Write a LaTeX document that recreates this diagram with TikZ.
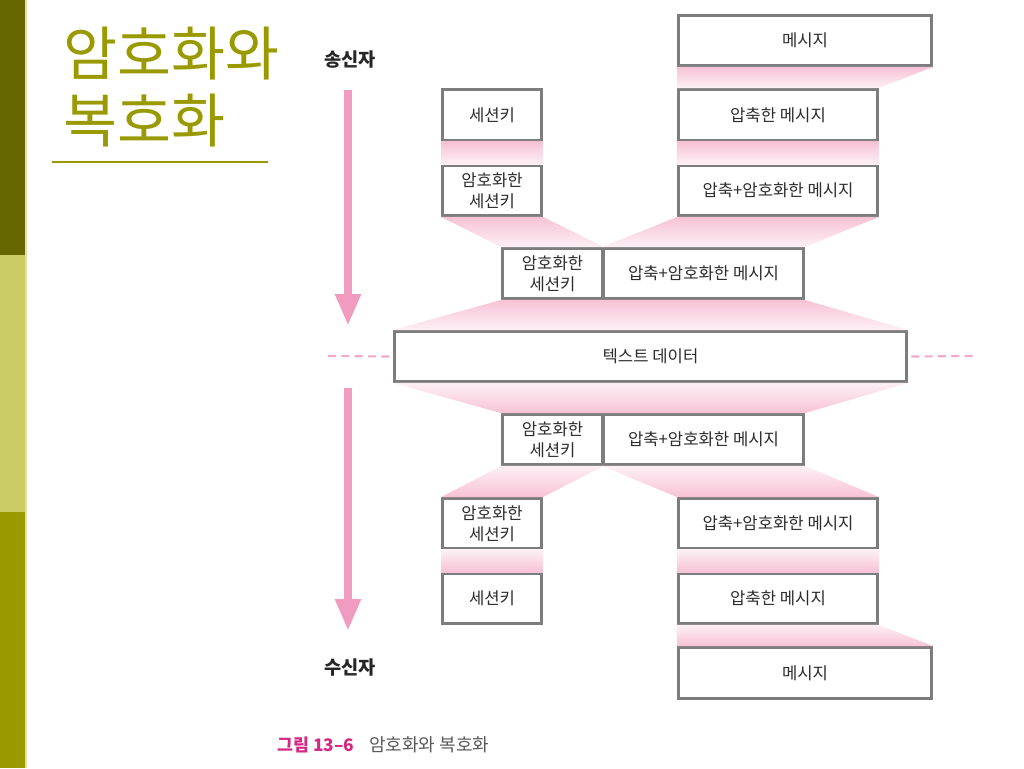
\documentclass[tikz,border=0pt]{standalone}
\usepackage{fontspec}
\setmainfont{Noto Sans CJK KR}
\usetikzlibrary{arrows.meta}
\definecolor{olivedark}{RGB}{102,102,0}
\definecolor{olivelight}{RGB}{204,204,102}
\definecolor{olivemid}{RGB}{153,153,0}
\definecolor{olivetitle}{RGB}{153,153,0}
\definecolor{pinkA}{RGB}{247,194,213}
\definecolor{pinkB}{RGB}{253,240,245}
\definecolor{arrowpink}{RGB}{242,155,192}
\definecolor{dashpink}{RGB}{240,170,200}
\definecolor{boxgray}{RGB}{125,125,125}
\definecolor{txtgray}{RGB}{45,45,45}
\definecolor{capmag}{RGB}{214,40,130}
\definecolor{capgray}{RGB}{90,90,90}
\newcommand\mkbox[6]{\node[boxnode, minimum width={(#4-#2-3)*0.75pt}, minimum height={(#5-#3-3)*0.75pt}] (#1) at ({(#2+#4)/2},{(#3+#5)/2}) {#6};}
\begin{document}
\begin{tikzpicture}[x=0.75pt,y=-0.75pt,
  boxnode/.style={draw=boxgray, line width=2.2pt, fill=white, inner sep=0pt, align=center,
    text=txtgray, font=\fontsize{12.5}{15.5}\selectfont},
  fadedown/.style={top color=pinkA, bottom color=pinkB},
  fadeup/.style={top color=pinkB, bottom color=pinkA},
  sidelabel/.style={font=\bfseries\fontsize{14}{16}\selectfont, text=black!85, inner sep=0pt},
  flowarrow/.style={arrowpink, line width=6pt, -{Triangle[length=24pt,width=18pt]}},
  sidedash/.style={dashpink, line width=1.6pt, dash pattern=on 6pt off 4pt},
  titletext/.style={anchor=west, inner sep=0pt, text=olivetitle, font=\fontsize{44}{50}\selectfont}]
\useasboundingbox (0,0) rectangle (1024,768);
\fill[white] (0,0) rectangle (1024,768);
% left bar
\fill[olivedark] (0,0) rectangle (25,255);
\fill[olivelight] (0,255) rectangle (25,512);
\fill[olivemid] (0,512) rectangle (25,768);
\fill[olivelight!60] (25,0) rectangle (26.5,768);
% title
\node[titletext] (t1) at (63,54) {암호화와};
\node[titletext] (t2) at (63,121) {복호화};
\coordinate (u1) at (52,162);
\coordinate (u2) at (268,162);
\draw[olivemid, line width=1.6pt] (u1) -- (u2);
% boxes
\mkbox{m1}{677}{14}{933}{67}{메시지}
\mkbox{k2}{441}{88}{543}{142}{세션키}
\mkbox{m2}{677}{88}{879}{142}{압축한 메시지}
\mkbox{k3}{441}{164}{543}{217}{암호화한\\세션키}
\mkbox{m3}{677}{164}{879}{217}{압축+암호화한 메시지}
\mkbox{k4}{501}{247}{604}{300}{암호화한\\세션키}
\mkbox{m4}{602}{247}{805}{300}{압축+암호화한 메시지}
\mkbox{td}{393}{330}{908}{383}{텍스트 데이터}
\mkbox{k5}{501}{413}{604}{466}{암호화한\\세션키}
\mkbox{m5}{602}{413}{805}{466}{압축+암호화한 메시지}
\mkbox{k6}{441}{497}{543}{550}{암호화한\\세션키}
\mkbox{m6}{677}{497}{879}{550}{압축+암호화한 메시지}
\mkbox{k7}{441}{572}{543}{625}{세션키}
\mkbox{m7}{677}{572}{879}{625}{압축한 메시지}
\mkbox{m8}{677}{646}{933}{700}{메시지}
% shaded bands between boxes
\shade[fadedown] (m1.south west) -- (m1.south east) -- (m2.north east) -- (m2.north west) -- cycle;
\shade[fadedown] (k2.south west) -- (k2.south east) -- (k3.north east) -- (k3.north west) -- cycle;
\shade[fadedown] (m2.south west) -- (m2.south east) -- (m3.north east) -- (m3.north west) -- cycle;
\shade[fadedown] (k3.south west) -- (k3.south east) -- (k4.north east) -- (k4.north west) -- cycle;
\shade[fadedown] (m3.south west) -- (m3.south east) -- (m4.north east) -- (m4.north west) -- cycle;
\shade[fadedown] (k4.south west) -- (m4.south east) -- (td.north east) -- (td.north west) -- cycle;
\shade[fadeup] (td.south west) -- (td.south east) -- (m5.north east) -- (k5.north west) -- cycle;
\shade[fadeup] (k5.south west) -- (k5.south east) -- (k6.north east) -- (k6.north west) -- cycle;
\shade[fadeup] (m5.south west) -- (m5.south east) -- (m6.north east) -- (m6.north west) -- cycle;
\shade[fadeup] (k6.south west) -- (k6.south east) -- (k7.north east) -- (k7.north west) -- cycle;
\shade[fadeup] (m6.south west) -- (m6.south east) -- (m7.north east) -- (m7.north west) -- cycle;
\shade[fadeup] (m7.south west) -- (m7.south east) -- (m8.north east) -- (m8.north west) -- cycle;
% side labels and arrows
\node[sidelabel] (snd) at (350,60) {송신자};
\node[sidelabel] (rcv) at (350,668) {수신자};
\coordinate (a1) at (348,90);
\coordinate (a2) at (348,326);
\coordinate (a3) at (348,388);
\coordinate (a4) at (348,631);
\draw[flowarrow] (a1) -- (a2);
\draw[flowarrow] (a3) -- (a4);
% dashed side lines
\coordinate (dl) at (328,356);
\coordinate (dr) at (976,356);
\draw[sidedash] (dl) -- ([xshift=-2.5pt]td.west);
\draw[sidedash] ([xshift=2.5pt]td.east) -- (dr);
% caption
\node[anchor=west, inner sep=0pt, text=capmag, font=\bfseries\fontsize{13}{15}\selectfont] (cap1) at (277,745) {그림 13–6};
\node[anchor=west, inner sep=0pt, text=capgray, font=\fontsize{13.5}{15}\selectfont] (cap2) at (369,745) {암호화와 복호화};
\end{tikzpicture}
\end{document}
